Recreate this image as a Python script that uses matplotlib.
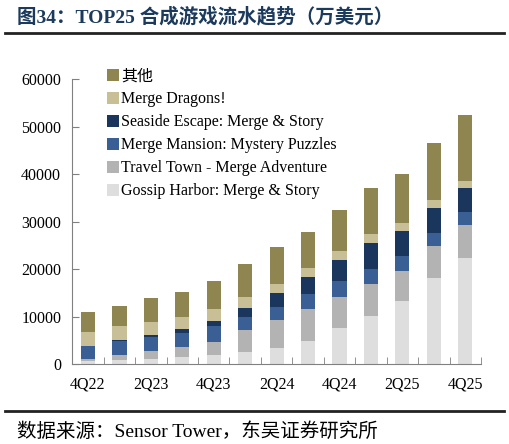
import matplotlib.pyplot as plt
import numpy as np

quarters = ['4Q22', '1Q23', '2Q23', '3Q23', '4Q23', '1Q24', '2Q24',
            '3Q24', '4Q24', '1Q25', '2Q25', '3Q25', '4Q25']

# 万美元, bottom of stack first
gossip = [570, 840, 1120, 1540, 1900, 2530, 3310, 4910, 7650, 10180, 13210, 18120, 22400]
travel = [480, 1050, 1620, 2110, 2800, 4640, 5960, 6680, 6410, 6620, 6320, 6740, 6950]
mansion = [2800, 2950, 3010, 2950, 3370, 2740, 2740, 3100, 3500, 3220, 3160, 2800, 2740]
seaside = [0, 200, 420, 780, 1050, 1960, 2950, 3580, 4360, 5540, 5330, 5270, 4930]
dragons = [2950, 3010, 2740, 2470, 2400, 2190, 1960, 1900, 1900, 1830, 1690, 1690, 1540]
other = [4090, 4210, 4930, 5400, 5900, 7080, 7730, 7710, 8640, 9630, 10330, 11950, 13850]

series = [
    ('Gossip Harbor: Merge & Story', gossip, '#dedede'),
    ('Travel Town - Merge Adventure', travel, '#b3b3b3'),
    ('Merge Mansion: Mystery Puzzles', mansion, '#3a5f95'),
    ('Seaside Escape: Merge & Story', seaside, '#1b365d'),
    ('Merge Dragons!', dragons, '#c8bf96'),
    ('其他', other, '#8f8550'),
]

fonts = ['Liberation Serif', 'Noto Sans CJK SC']
plt.rcParams['font.family'] = fonts

fig = plt.figure(figsize=(5.09, 4.44), dpi=100)
ax = fig.add_axes([0.142, 0.180, 0.803, 0.641])

x = np.arange(len(quarters))
bottom = np.zeros(len(quarters))
handles = []
for name, vals, col in series:
    b = ax.bar(x, vals, width=0.45, bottom=bottom, color=col, label=name)
    handles.append(b)
    bottom += np.array(vals)

ax.set_xlim(-0.5, len(quarters) - 0.5)
ax.set_ylim(0, 60000)
ax.set_yticks(range(0, 60001, 10000))
ax.set_xticks(x[::2])
ax.set_xticklabels(quarters[::2])
ax.set_xticks(np.arange(-0.5, len(quarters), 1), minor=True)
ax.tick_params(axis='x', which='major', length=0, labelsize=11.5, pad=9)
ax.tick_params(axis='x', which='minor', direction='in', length=5, color='#808080')
ax.tick_params(axis='y', direction='in', length=5, color='#808080', labelsize=11.5, pad=8)

for s in ['top', 'right']:
    ax.spines[s].set_visible(False)
for s in ['left', 'bottom']:
    ax.spines[s].set_color('#808080')

leg = ax.legend(handles[::-1], [s[0] for s in series][::-1],
                loc='upper left', bbox_to_anchor=(0.05, 1.09),
                frameon=False, fontsize=11.5, handlelength=0.75, handleheight=0.75,
                handletextpad=0.15, labelspacing=0.44)

# title and source
fig.text(0.034, 0.962, '图34：TOP25 合成游戏流水趋势（万美元）', fontsize=14,
         fontweight='bold', color='#1b3a5c', va='center', family=fonts)
fig.add_artist(plt.Line2D([0.01, 0.99], [0.925, 0.925], color='#222222', lw=2))
fig.add_artist(plt.Line2D([0.01, 0.99], [0.074, 0.074], color='#222222', lw=2))
fig.text(0.034, 0.028, '数据来源：Sensor Tower，东吴证券研究所', fontsize=14,
         color='black', va='center', family=fonts)

fig.savefig('out.png', dpi=100)
